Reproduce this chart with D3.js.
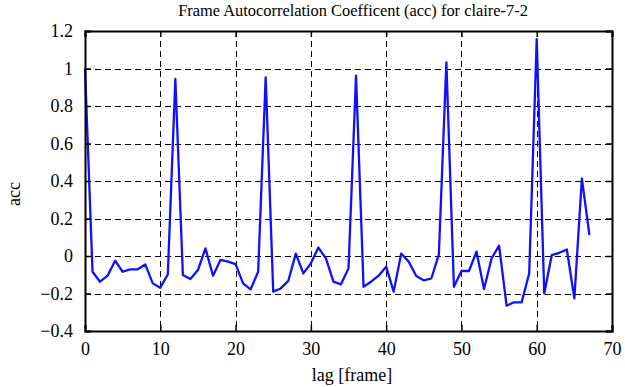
<!DOCTYPE html>
<html>
<head>
<meta charset="utf-8">
<script src="https://cdn.jsdelivr.net/npm/d3@7"></script>
<style>
  body { margin: 0; background: #fff; }
  svg text { font-family: "Liberation Serif", "DejaVu Serif", serif; fill: #000; }
</style>
</head>
<body>
<div id="chart"></div>
<script>
    // lag 0..67
    const acc = [
        1.0, -0.084, -0.137, -0.105, -0.025, -0.084, -0.071, -0.071, -0.045, -0.146,
        -0.169, -0.098, 0.944, -0.101, -0.123, -0.075, 0.041, -0.105, -0.021, -0.03,
        -0.043, -0.146, -0.178, -0.084, 0.953, -0.19, -0.173, -0.133, 0.013, -0.093,
        -0.039, 0.045, -0.013, -0.137, -0.151, -0.066, 0.962, -0.164, -0.137, -0.105,
        -0.057, -0.19, 0.013, -0.03, -0.107, -0.13, -0.12, 0.007, 1.033, -0.164,
        -0.08, -0.08, 0.023, -0.176, -0.013, 0.055, -0.265, -0.247, -0.247, -0.093,
        1.157, -0.2, 0.005, 0.017, 0.035, -0.226, 0.414, 0.112
    ];
    const xTicks = [0, 10, 20, 30, 40, 50, 60, 70];
    const yTicks = [-0.4, -0.2, 0, 0.2, 0.4, 0.6, 0.8, 1, 1.2];

    const W = 625, H = 387;
    const margin = {top: 31, right: 13, bottom: 56, left: 85};
    const serif = '"Liberation Serif", "DejaVu Serif", serif';

    const svg = d3.select("#chart").append("svg")
        .attr("width", W)
        .attr("height", H);

    const x = d3.scaleLinear().domain([0, 70]).range([margin.left, W - margin.right]);
    const y = d3.scaleLinear().domain([-0.4, 1.2]).range([H - margin.bottom, margin.top]);

    // dashed grid
    const grid = svg.append("g")
        .attr("stroke", "#000")
        .attr("stroke-width", 1)
        .attr("stroke-dasharray", "6,4");
    grid.selectAll(".gx").data(xTicks.slice(1, -1)).enter().append("line")
        .attr("x1", d => Math.round(x(d)) + 0.5).attr("x2", d => Math.round(x(d)) + 0.5)
        .attr("y1", y(1.2)).attr("y2", y(-0.4));
    grid.selectAll(".gy").data(yTicks.slice(1, -1)).enter().append("line")
        .attr("y1", d => Math.round(y(d)) + 0.5).attr("y2", d => Math.round(y(d)) + 0.5)
        .attr("x1", x(0)).attr("x2", x(70));

    // the series
    svg.append("path")
        .datum(acc)
        .attr("fill", "none")
        .attr("stroke", "#1010ff")
        .attr("stroke-width", 2.3)
        .attr("stroke-linejoin", "round")
        .attr("d", d3.line()
            .x((d, i) => x(i))
            .y(d => y(d)));

    // axes, ticks inward on every side
    const fmt = d => d3.format("~g")(d);
    const axBottom = svg.append("g")
        .attr("transform", "translate(0," + y(-0.4) + ")")
        .call(d3.axisBottom(x).tickValues(xTicks).tickSize(-6).tickPadding(11).tickFormat(fmt));
    const axTop = svg.append("g")
        .attr("transform", "translate(0," + y(1.2) + ")")
        .call(d3.axisTop(x).tickValues(xTicks).tickSize(-6).tickFormat(""));
    const axLeft = svg.append("g")
        .attr("transform", "translate(" + x(0) + ",0)")
        .call(d3.axisLeft(y).tickValues(yTicks).tickSize(-6).tickPadding(12).tickFormat(fmt));
    const axRight = svg.append("g")
        .attr("transform", "translate(" + x(70) + ",0)")
        .call(d3.axisRight(y).tickValues(yTicks).tickSize(-6).tickFormat(""));

    [axBottom, axTop, axLeft, axRight].forEach(g => {
        g.attr("font-family", serif);
        g.select(".domain").attr("stroke", "#000").attr("stroke-width", 2);
        g.selectAll(".tick line").attr("stroke", "#000").attr("stroke-width", 1.5);
        g.selectAll("text")
            .style("font-family", serif)
            .style("font-size", "18px")
            .attr("fill", "#000");
    });

    svg.append("text")
        .attr("x", 353).attr("y", 16)
        .attr("text-anchor", "middle")
        .style("font-size", "16.4px")
        .text("Frame Autocorrelation Coefficent (acc) for claire-7-2");

    svg.append("text")
        .attr("x", 352).attr("y", 381)
        .attr("text-anchor", "middle")
        .style("font-size", "18px")
        .text("lag [frame]");

    svg.append("text")
        .attr("transform", "translate(20,194) rotate(-90)")
        .attr("text-anchor", "middle")
        .style("font-size", "18px")
        .text("acc");
</script>
</body>
</html>
